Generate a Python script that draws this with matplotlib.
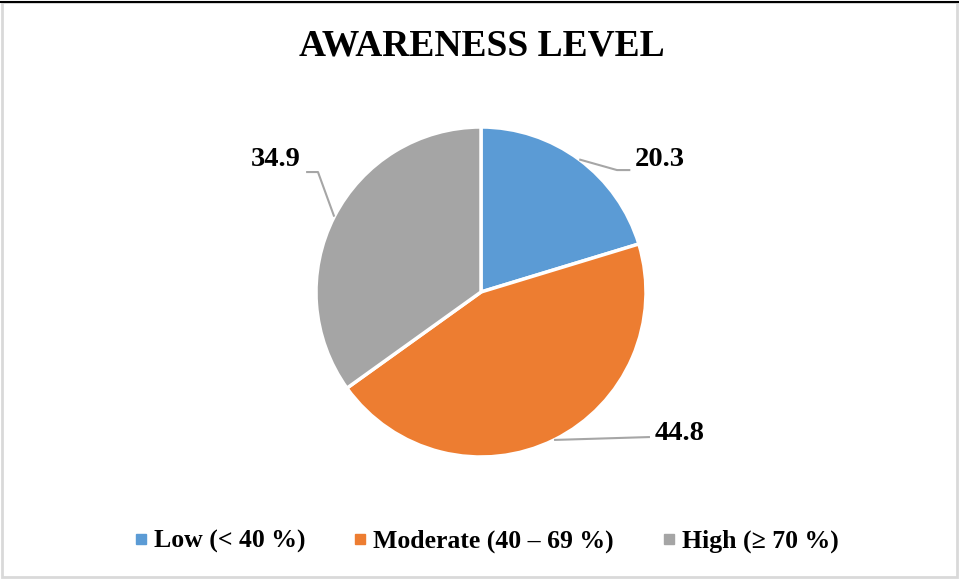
import numpy as np
import matplotlib
matplotlib.use('Agg')
from matplotlib import pyplot as plt
from matplotlib.lines import Line2D
from matplotlib.patches import Rectangle

# data
categories = ['Low (< 40 %)', 'Moderate (40 – 69 %)', 'High (≥ 70 %)']
values = [20.3, 44.8, 34.9]
colors = ['#5B9BD5', '#ED7D31', '#A5A5A5']
title = 'AWARENESS LEVEL'

# label placement (text position, leader elbow, leader end) in pie radius units
label_layout = [
    {'text': (0.93, 0.80), 'ha': 'left', 'elbow': (0.824, 0.739), 'end': (0.905, 0.739)},
    {'text': (1.05, -0.855), 'ha': 'left', 'elbow': None, 'end': (1.024, -0.879)},
    {'text': (-1.09, 0.80), 'ha': 'right', 'elbow': (-0.988, 0.727), 'end': (-1.06, 0.727)},
]

plt.rcParams['font.family'] = ['Liberation Serif', 'DejaVu Serif']
plt.rcParams['font.weight'] = 'bold'

W, H = 959, 580
fig = plt.figure(figsize=(W / 100, H / 100), dpi=100, facecolor='white')

# pie axes: center (481, 292) px, radius 165 px
cx, cy, r = 481, 292, 165
ax = fig.add_axes([(cx - r) / W, (H - cy - r) / H, 2 * r / W, 2 * r / H])

wedges, _ = ax.pie(values, colors=colors, startangle=90, counterclock=False,
                   radius=1, wedgeprops={'edgecolor': 'white', 'linewidth': 2.5})
ax.set_xlim(-1, 1)
ax.set_ylim(-1, 1)
ax.set_aspect('equal')
ax.axis('off')

for w, v, lay in zip(wedges, values, label_layout):
    mid = np.deg2rad((w.theta1 + w.theta2) / 2)
    anchor = (np.cos(mid), np.sin(mid))
    pts = [anchor]
    if lay['elbow'] is not None:
        pts.append(lay['elbow'])
    pts.append(lay['end'])
    xs, ys = zip(*pts)
    ax.plot(xs, ys, color='#A6A6A6', lw=1.5, clip_on=False, solid_capstyle='butt')
    ax.text(lay['text'][0], lay['text'][1], f'{v:.1f}', ha=lay['ha'], va='center',
            fontsize=20.5, fontweight='bold', color='black', clip_on=False)

fig.text(0.502, 0.921, title, ha='center', va='center', fontsize=27, fontweight='bold')

handles = [Line2D([], [], marker='s', linestyle='none', markersize=7.5,
                  markerfacecolor=c, markeredgecolor=c) for c in colors]
fig.legend(handles, categories, loc='center', bbox_to_anchor=(0.508, 0.066), ncol=3,
           frameon=False, prop={'size': 18.5, 'weight': 'bold'},
           handlelength=0.4, handletextpad=0.3, columnspacing=1.95)

# chart border
fig.add_artist(Rectangle((0.002, 0.006), 0.996, 0.99, transform=fig.transFigure,
                         fill=False, edgecolor='#D9D9D9', lw=2))
fig.add_artist(Line2D([0, 1], [0.997, 0.997], transform=fig.transFigure, color='black', lw=1.5))

fig.savefig('out.png', dpi=100, facecolor='white')
